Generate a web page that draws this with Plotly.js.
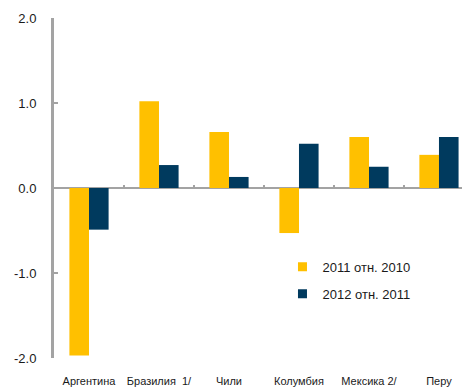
<!DOCTYPE html>
<html>
<head>
<meta charset="utf-8">
<script src="https://cdn.plot.ly/plotly-3.0.1.min.js"></script>
<style>
  html, body { margin: 0; padding: 0; background: #fff; }
  #chart { width: 462px; height: 387px; }
</style>
</head>
<body>
<div id="chart"></div>
<script>
// Countries (category labels)
const countries = ['Аргентина', 'Бразилия  1/', 'Чили', 'Колумбия', 'Мексика 2/', 'Перу'];

// Change, percentage points
const change2011 = [-1.97, 1.02, 0.66, -0.53, 0.60, 0.39];
const change2012 = [-0.49, 0.27, 0.13, 0.52, 0.25, 0.60];

const seriesNames = ['2011 отн. 2010', '2012 отн. 2011'];
const seriesColors = ['#FFC000', '#003A5E'];

// Value axis ticks, written with a plain hyphen for negatives
const yTicks = [-2, -1, 0, 1, 2];
const yTickText = yTicks.map(v => v.toFixed(1));

const axisGrey = '#a3a3a3';
const font = 'Liberation Sans, Arial, sans-serif';

// Category boundaries where the small ticks sit on the zero line
const boundaries = countries.slice(1).map((_, i) => i + 0.5);

const traces = [
  {
    type: 'bar', x: countries, y: change2011, name: seriesNames[0],
    marker: { color: seriesColors[0] }, showlegend: false
  },
  {
    type: 'bar', x: countries, y: change2012, name: seriesNames[1],
    marker: { color: seriesColors[1] }, showlegend: false
  },
  // legend entries with small square keys
  {
    type: 'scatter', mode: 'markers', x: [null], y: [null], name: seriesNames[0],
    marker: { symbol: 'square', size: 9, color: seriesColors[0] }, legendgroup: 'a'
  },
  {
    type: 'scatter', mode: 'markers', x: [null], y: [null], name: seriesNames[1],
    marker: { symbol: 'square', size: 9, color: seriesColors[1] }, legendgroup: 'b'
  },
  // carrier for the tick axis drawn along zero
  { type: 'scatter', mode: 'markers', x: [null], y: [null], xaxis: 'x2', showlegend: false, hoverinfo: 'skip' }
];

const xRange = [-0.5, 5.329];

const layout = {
  width: 462,
  height: 387,
  margin: { l: 54, r: 0, t: 18, b: 29 },
  paper_bgcolor: '#ffffff',
  plot_bgcolor: '#ffffff',
  font: { family: font, color: '#1a1a1a' },
  barmode: 'group',
  bargap: 0.44,
  bargroupgap: 0,
  showlegend: true,
  legend: {
    x: 0.56, y: 0.312, xanchor: 'left', yanchor: 'top',
    font: { family: font, size: 13, color: '#1a1a1a' },
    bgcolor: 'rgba(0,0,0,0)',
    tracegroupgap: 7,
    itemwidth: 30
  },
  xaxis: {
    type: 'category',
    range: xRange,
    showline: false,
    showgrid: false,
    zeroline: false,
    ticks: '',
    ticklabelstandoff: 15,
    tickfont: { family: font, size: 11, color: '#1a1a1a' }
  },
  xaxis2: {
    overlaying: 'x',
    anchor: 'free',
    position: 0.5,
    type: 'linear',
    range: xRange,
    tickvals: boundaries,
    showticklabels: false,
    ticks: 'inside',
    ticklen: 3,
    tickwidth: 2,
    tickcolor: axisGrey,
    showline: false,
    showgrid: false,
    zeroline: false
  },
  yaxis: {
    range: [-2, 2],
    tickvals: yTicks,
    ticktext: yTickText,
    showgrid: false,
    showline: true,
    linecolor: axisGrey,
    linewidth: 3,
    ticks: 'inside',
    ticklen: 4,
    tickwidth: 2,
    tickcolor: axisGrey,
    zeroline: true,
    zerolinecolor: axisGrey,
    zerolinewidth: 2.5,
    ticklabelstandoff: 12,
    tickfont: { family: font, size: 13, color: '#1a1a1a' }
  }
};

Plotly.newPlot('chart', traces, layout, { staticPlot: true, displayModeBar: false });
</script>
</body>
</html>
